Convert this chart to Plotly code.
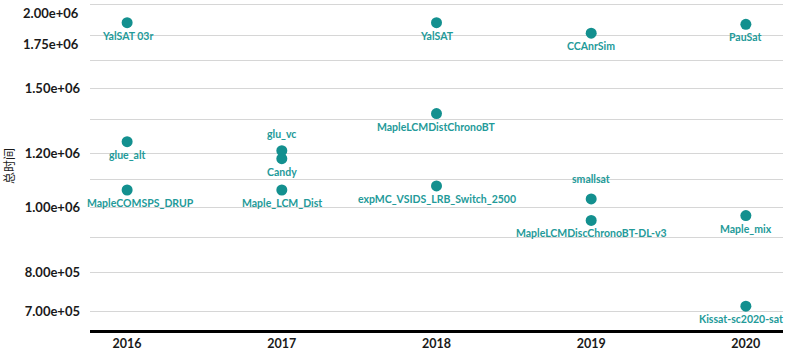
import math
import plotly.graph_objects as go

# ---- data ----
years = ["2016", "2016", "2016",
         "2017", "2017", "2017",
         "2018", "2018", "2018",
         "2019", "2019", "2019",
         "2020", "2020", "2020"]
solvers = ["YalSAT 03r", "glue_alt", "MapleCOMSPS_DRUP",
           "glu_vc", "Candy", "Maple_LCM_Dist",
           "YalSAT", "MapleLCMDistChronoBT", "expMC_VSIDS_LRB_Switch_2500",
           "CCAnrSim", "smallsat", "MapleLCMDiscChronoBT-DL-v3",
           "PauSat", "Maple_mix", "Kissat-sc2020-sat"]
total_time = [1.88e6, 1.251e6, 1.06e6,
              1.213e6, 1.18e6, 1.06e6,
              1.88e6, 1.377e6, 1.075e6,
              1.814e6, 1.028e6, 9.55e5,
              1.87e6, 9.71e5, 7.12e5]
categories = ["2016", "2017", "2018", "2019", "2020"]
grid_values = [7e5, 8e5, 9e5, 1e6, 1.1e6, 1.2e6, 1.35e6, 1.5e6, 1.65e6, 1.8e6, 2e6]
labeled_ticks = {7e5: "7.00e+05", 8e5: "8.00e+05", 1e6: "1.00e+06",
                 1.2e6: "1.20e+06", 1.5e6: "1.50e+06"}
extra_labels = [(1.75e6, "1.75e+06", 0), (2e6, "2.00e+06", -8)]

# label placement (style)
labels_above = {"glu_vc": 17, "smallsat": 20}
label_xshift = {"MapleCOMSPS_DRUP": 13, "Kissat-sc2020-sat": -5}

MARK = "#13908f"
TEXTC = "#239a99"
YTICKFONT = dict(family="Lato, Open Sans, sans-serif", size=13, color="#1a1a1a", weight=700)
XTICKFONT = dict(family="Lato, Open Sans, sans-serif", size=12.5, color="#1a1a1a", weight=700)
LABELFONT = dict(family="Lato, Open Sans, sans-serif", size=10.5, color=TEXTC, weight=700)

fig = go.Figure()
fig.add_trace(go.Scatter(
    x=years, y=total_time, mode="markers",
    marker=dict(color=MARK, size=11),
    cliponaxis=False, showlegend=False, hovertext=solvers,
))

for yr, s, v in zip(years, solvers, total_time):
    ys = labels_above.get(s, -13)
    fig.add_annotation(xref="x", x=categories.index(yr), yref="y", y=math.log10(v),
                       text=s, showarrow=False,
                       xanchor="center", yanchor="middle",
                       xshift=label_xshift.get(s, 0), yshift=ys, font=LABELFONT)

ticktext = [labeled_ticks.get(v, "") for v in grid_values]

fig.update_layout(
    width=800, height=354,
    margin=dict(l=90, r=17, t=2, b=24),
    paper_bgcolor="white", plot_bgcolor="white",
    xaxis=dict(type="category", categoryorder="array", categoryarray=categories,
               range=[-0.24, 4.24], showgrid=False, zeroline=False,
               showline=True, linecolor="#000000", linewidth=3,
               ticks="", tickfont=XTICKFONT),
    yaxis=dict(type="log", range=[5.817, 6.305],
               tickmode="array", tickvals=grid_values, ticktext=ticktext,
               showgrid=True, gridcolor="#d6d6d6", gridwidth=1.3,
               zeroline=False, showline=False, ticks="",
               ticklabelstandoff=9, tickfont=YTICKFONT,
               title=dict(text="总时间", standoff=12,
                          font=dict(family="Noto Sans CJK SC", size=12, color="#1a1a1a"))),
)

for v, t, shift in extra_labels:
    fig.add_annotation(xref="paper", x=0, yref="y", y=math.log10(v), text=t,
                       showarrow=False, xanchor="right", xshift=-9, yshift=shift,
                       font=YTICKFONT)

fig.write_html("out.html")
